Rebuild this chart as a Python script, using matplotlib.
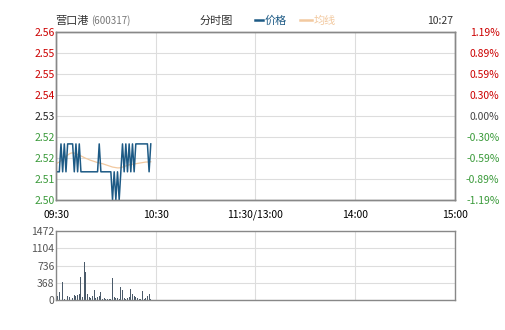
import matplotlib.pyplot as plt
from matplotlib.lines import Line2D
import numpy as np

plt.rcParams['font.family'] = ['Noto Sans CJK SC', 'DejaVu Sans']

prev_close = 2.53
price_labels = ['2.56', '2.55', '2.55', '2.54', '2.53', '2.52', '2.52', '2.51', '2.50']
pct_labels = ['1.19%', '0.89%', '0.59%', '0.30%', '0.00%', '-0.30%', '-0.59%', '-0.89%', '-1.19%']
time_labels = ['09:30', '10:30', '11:30/13:00', '14:00', '15:00']
vol_labels = ['0', '368', '736', '1104', '1472']

# one value per minute, 09:30 .. 10:27
price = [2.51, 2.51, 2.51, 2.52, 2.51, 2.52, 2.51, 2.52, 2.52, 2.52,
         2.52, 2.51, 2.52, 2.51, 2.52, 2.51, 2.51, 2.51, 2.51, 2.51,
         2.51, 2.51, 2.51, 2.51, 2.51, 2.51, 2.52, 2.51, 2.51, 2.51,
         2.51, 2.51, 2.51, 2.51, 2.50, 2.51, 2.50, 2.51, 2.50, 2.51,
         2.52, 2.51, 2.52, 2.51, 2.52, 2.51, 2.52, 2.51, 2.52, 2.52,
         2.52, 2.52, 2.52, 2.52, 2.52, 2.52, 2.51, 2.52]
avg_price = [2.5130, 2.5132, 2.5135, 2.5140, 2.5145, 2.5150, 2.5155, 2.5160, 2.5164, 2.5167,
             2.5168, 2.5167, 2.5165, 2.5162, 2.5160, 2.5157, 2.5154, 2.5151, 2.5148, 2.5146,
             2.5143, 2.5141, 2.5139, 2.5137, 2.5135, 2.5133, 2.5132, 2.5130, 2.5129, 2.5127,
             2.5125, 2.5123, 2.5121, 2.5119, 2.5117, 2.5116, 2.5115, 2.5114, 2.5114, 2.5115,
             2.5117, 2.5119, 2.5121, 2.5123, 2.5125, 2.5126, 2.5127, 2.5128, 2.5129, 2.5130,
             2.5131, 2.5132, 2.5133, 2.5134, 2.5135, 2.5135, 2.5135, 2.5136]
volume = [140, 90, 170, 110, 390, 30, 20, 90, 70, 90,
          50, 100, 80, 110, 130, 500, 60, 820, 600, 120,
          70, 40, 90, 210, 40, 60, 90, 170, 30, 40,
          25, 30, 15, 20, 460, 60, 40, 50, 30, 270,
          210, 50, 30, 40, 60, 230, 130, 80, 60, 40,
          25, 20, 190, 30, 40, 90, 130, 20]

RED = '#cc0000'
GREEN = '#3a9a3a'
GRID = '#dddddd'
SPINE = '#888888'
BLUE = '#1d5a85'
TAN = '#f2c9a0'

fig = plt.figure(figsize=(5.05, 3.30), dpi=100)
ax = fig.add_axes([56 / 505, 1 - 200 / 330, 399 / 505, 168 / 330])
axv = fig.add_axes([56 / 505, 1 - 300 / 330, 399 / 505, 69 / 330])

minutes = np.arange(len(price))
lo, hi = prev_close * (1 - 0.0119), prev_close * (1 + 0.0119)
yticks = np.linspace(hi, lo, len(price_labels))
xticks = np.linspace(0, 240, len(time_labels))

ax.plot(minutes, avg_price, color=TAN, lw=0.9, zorder=2)
ax.plot(minutes, price, color=BLUE, lw=1.1, zorder=3)
ax.set_xlim(0, 240)
ax.set_ylim(lo, hi)
ax.set_yticks(yticks)
ax.set_yticklabels(price_labels, fontsize=7.5)
ax.set_xticks(xticks)
ax.set_xticklabels(time_labels, fontsize=7.5)
ax.tick_params(axis='y', length=0, pad=1)
ax.tick_params(axis='x', length=0, pad=7)
ax.grid(True, color=GRID, lw=0.8)
for i, lab in enumerate(ax.get_yticklabels()):
    lab.set_color(RED if i < 4 else ('#222222' if i == 4 else GREEN))

ax2 = ax.twinx()
ax2.set_ylim(lo, hi)
ax2.set_yticks(yticks)
ax2.set_yticklabels(pct_labels, fontsize=7.5, ha='right')
ax2.tick_params(axis='y', length=0, pad=32)
for i, lab in enumerate(ax2.get_yticklabels()):
    lab.set_color(RED if i < 4 else ('#444444' if i == 4 else GREEN))

for a in (ax, ax2, axv):
    for s in a.spines.values():
        s.set_color(SPINE)
        s.set_linewidth(1.0)

axv.bar(minutes, volume, width=0.55, color='#4a5a6a')
axv.set_xlim(0, 240)
axv.set_ylim(0, 1472)
axv.set_yticks(np.linspace(0, 1472, len(vol_labels)))
axv.set_yticklabels(vol_labels, fontsize=7.5, color='#555555')
axv.set_xticks(xticks)
axv.set_xticklabels([])
axv.tick_params(length=0, pad=1)
axv.grid(True, color=GRID, lw=0.8)
axv.set_axisbelow(True)

fig.text(55 / 505, 1 - 21 / 330, '营口港', fontsize=8, color='#333333', va='center')
fig.text(91 / 505, 1 - 21 / 330, '(600317)', fontsize=7, color='#777777', va='center')
fig.text(200 / 505, 1 - 21 / 330, '分时图', fontsize=8, color='#333333', va='center')
fig.add_artist(Line2D([255 / 505, 263 / 505], [1 - 20 / 330] * 2, color=BLUE, lw=1.8))
fig.text(265 / 505, 1 - 21 / 330, '价格', fontsize=8, color=BLUE, va='center')
fig.add_artist(Line2D([300 / 505, 312 / 505], [1 - 20 / 330] * 2, color=TAN, lw=1.8))
fig.text(314 / 505, 1 - 21 / 330, '均线', fontsize=8, color=TAN, va='center')
fig.text(453 / 505, 1 - 21 / 330, '10:27', fontsize=7.5, color='#333333', va='center', ha='right')

fig.savefig('out.png', dpi=100)
